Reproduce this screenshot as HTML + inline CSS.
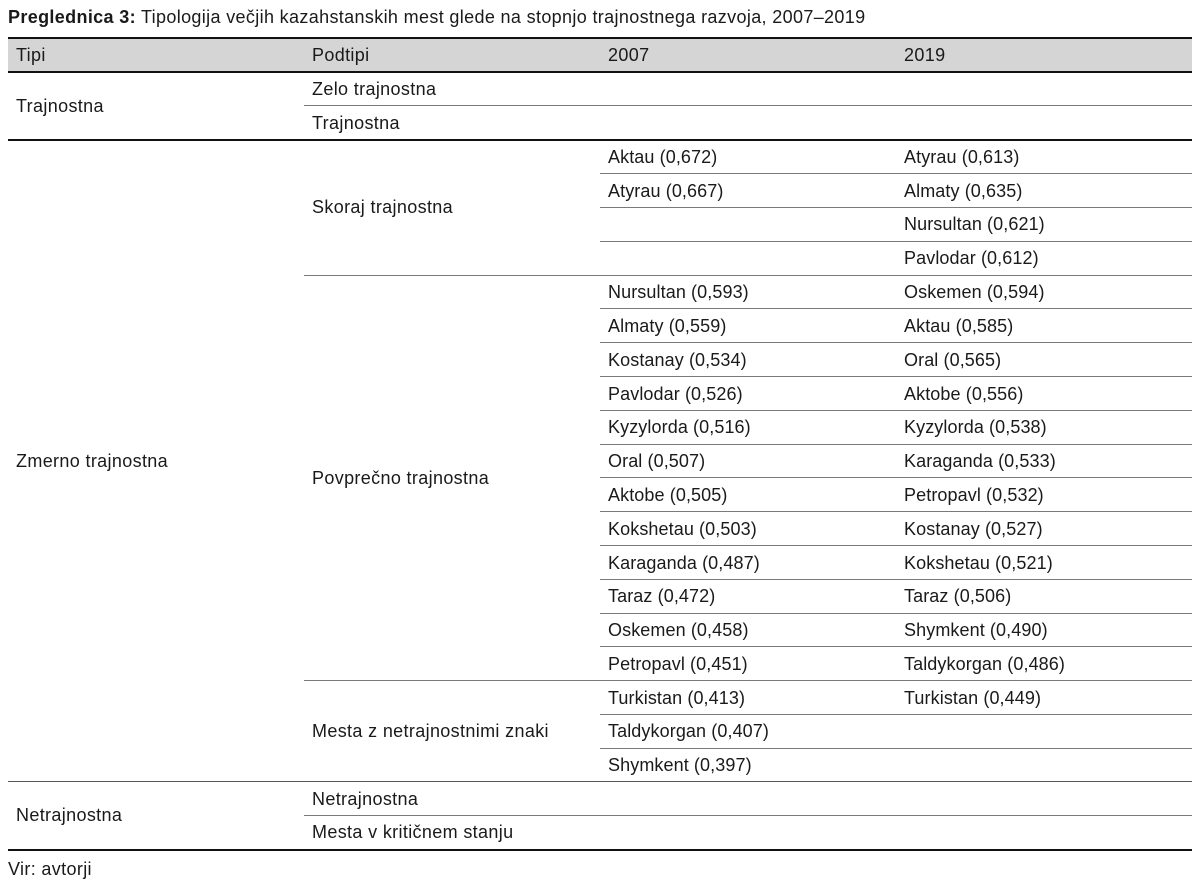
<!DOCTYPE html>
<html>
<head>
<meta charset="utf-8">
<style>
  html, body { margin:0; padding:0; background:#fff; }
  body { width:1198px; height:883px; position:relative; overflow:hidden;
         font-family:"Liberation Sans", Arial, sans-serif; color:#1a1a1a; font-size:18px; letter-spacing:0.35px; }
  .t { position:absolute; white-space:nowrap; line-height:34px; height:34px; }
  .c { letter-spacing:0.1px; }
  .l { position:absolute; height:1px; background:#7a7a7a; }
  .b { position:absolute; background:#111; }
</style>
</head>
<body>
<!-- title -->
<div class="t" style="left:8px;top:0px;"><b>Preglednica 3:</b> Tipologija večjih kazahstanskih mest glede na stopnjo trajnostnega razvoja, 2007–2019</div>

<!-- header -->
<div style="position:absolute;left:8px;top:39px;width:1184px;height:33px;background:#d5d5d5;"></div>
<div class="b" style="left:8px;top:37px;width:1184px;height:2px;"></div>
<div class="b" style="left:8px;top:71px;width:1184px;height:2px;"></div>
<div class="t" style="left:16px;top:38px;">Tipi</div>
<div class="t" style="left:312px;top:38px;">Podtipi</div>
<div class="t" style="left:608px;top:38px;">2007</div>
<div class="t" style="left:904px;top:38px;">2019</div>

<!-- lines -->
<div class="l" style="left:304px;top:105px;width:888px;"></div>
<div class="b" style="left:8px;top:139px;width:1184px;height:1.5px;"></div>
<div class="l" style="left:600px;top:173px;width:592px;"></div>
<div class="l" style="left:600px;top:207px;width:592px;"></div>
<div class="l" style="left:600px;top:241px;width:592px;"></div>
<div class="l" style="left:304px;top:275px;width:888px;"></div>
<div class="l" style="left:600px;top:308px;width:592px;"></div>
<div class="l" style="left:600px;top:342px;width:592px;"></div>
<div class="l" style="left:600px;top:376px;width:592px;"></div>
<div class="l" style="left:600px;top:410px;width:592px;"></div>
<div class="l" style="left:600px;top:444px;width:592px;"></div>
<div class="l" style="left:600px;top:477px;width:592px;"></div>
<div class="l" style="left:600px;top:511px;width:592px;"></div>
<div class="l" style="left:600px;top:545px;width:592px;"></div>
<div class="l" style="left:600px;top:579px;width:592px;"></div>
<div class="l" style="left:600px;top:613px;width:592px;"></div>
<div class="l" style="left:600px;top:646px;width:592px;"></div>
<div class="l" style="left:304px;top:680px;width:888px;"></div>
<div class="l" style="left:600px;top:714px;width:592px;"></div>
<div class="l" style="left:600px;top:748px;width:592px;"></div>
<div class="l" style="left:8px;top:781px;width:1184px;background:#555;"></div>
<div class="l" style="left:304px;top:815px;width:888px;"></div>
<div class="b" style="left:8px;top:849px;width:1184px;height:2px;"></div>

<!-- Tipi column -->
<div class="t" style="left:16px;top:89px;">Trajnostna</div>
<div class="t" style="left:16px;top:444px;">Zmerno trajnostna</div>
<div class="t" style="left:16px;top:798px;">Netrajnostna</div>

<!-- Podtipi column -->
<div class="t" style="left:312px;top:72px;">Zelo trajnostna</div>
<div class="t" style="left:312px;top:106px;">Trajnostna</div>
<div class="t" style="left:312px;top:190px;">Skoraj trajnostna</div>
<div class="t" style="left:312px;top:461px;">Povprečno trajnostna</div>
<div class="t" style="left:312px;top:714px;">Mesta z netrajnostnimi znaki</div>
<div class="t" style="left:312px;top:782px;">Netrajnostna</div>
<div class="t" style="left:312px;top:815px;">Mesta v kritičnem stanju</div>

<!-- 2007 column -->
<div class="t c" style="left:608px;top:140px;">Aktau (0,672)</div>
<div class="t c" style="left:608px;top:174px;">Atyrau (0,667)</div>
<div class="t c" style="left:608px;top:275px;">Nursultan (0,593)</div>
<div class="t c" style="left:608px;top:309px;">Almaty (0,559)</div>
<div class="t c" style="left:608px;top:343px;">Kostanay (0,534)</div>
<div class="t c" style="left:608px;top:377px;">Pavlodar (0,526)</div>
<div class="t c" style="left:608px;top:410px;">Kyzylorda (0,516)</div>
<div class="t c" style="left:608px;top:444px;">Oral (0,507)</div>
<div class="t c" style="left:608px;top:478px;">Aktobe (0,505)</div>
<div class="t c" style="left:608px;top:512px;">Kokshetau (0,503)</div>
<div class="t c" style="left:608px;top:546px;">Karaganda (0,487)</div>
<div class="t c" style="left:608px;top:579px;">Taraz (0,472)</div>
<div class="t c" style="left:608px;top:613px;">Oskemen (0,458)</div>
<div class="t c" style="left:608px;top:647px;">Petropavl (0,451)</div>
<div class="t c" style="left:608px;top:681px;">Turkistan (0,413)</div>
<div class="t c" style="left:608px;top:714px;">Taldykorgan (0,407)</div>
<div class="t c" style="left:608px;top:748px;">Shymkent (0,397)</div>

<!-- 2019 column -->
<div class="t c" style="left:904px;top:140px;">Atyrau (0,613)</div>
<div class="t c" style="left:904px;top:174px;">Almaty (0,635)</div>
<div class="t c" style="left:904px;top:207px;">Nursultan (0,621)</div>
<div class="t c" style="left:904px;top:241px;">Pavlodar (0,612)</div>
<div class="t c" style="left:904px;top:275px;">Oskemen (0,594)</div>
<div class="t c" style="left:904px;top:309px;">Aktau (0,585)</div>
<div class="t c" style="left:904px;top:343px;">Oral (0,565)</div>
<div class="t c" style="left:904px;top:377px;">Aktobe (0,556)</div>
<div class="t c" style="left:904px;top:410px;">Kyzylorda (0,538)</div>
<div class="t c" style="left:904px;top:444px;">Karaganda (0,533)</div>
<div class="t c" style="left:904px;top:478px;">Petropavl (0,532)</div>
<div class="t c" style="left:904px;top:512px;">Kostanay (0,527)</div>
<div class="t c" style="left:904px;top:546px;">Kokshetau (0,521)</div>
<div class="t c" style="left:904px;top:579px;">Taraz (0,506)</div>
<div class="t c" style="left:904px;top:613px;">Shymkent (0,490)</div>
<div class="t c" style="left:904px;top:647px;">Taldykorgan (0,486)</div>
<div class="t c" style="left:904px;top:681px;">Turkistan (0,449)</div>

<!-- source -->
<div class="t" style="left:8px;top:852px;">Vir: avtorji</div>
</body>
</html>
